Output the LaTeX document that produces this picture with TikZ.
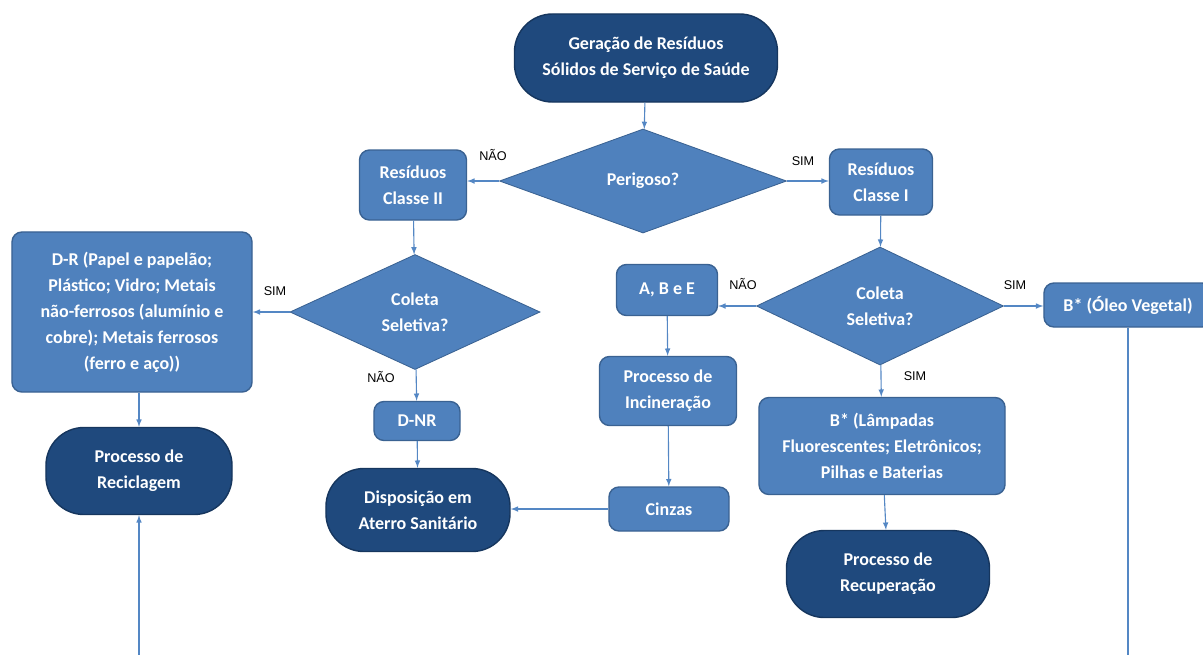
\documentclass[tikz,border=0pt]{standalone}
\usepackage{fontspec}
\setmainfont{Carlito}
\newfontfamily\lblfont{Liberation Sans}
\usepackage{tikz}
\usetikzlibrary{shapes.geometric,arrows}

\definecolor{boxblue}{RGB}{79,129,189}
\definecolor{boxline}{RGB}{58,98,146}
\definecolor{darkblue}{RGB}{31,73,125}
\definecolor{darkline}{RGB}{22,54,94}
\definecolor{flowblue}{RGB}{84,135,196}

\begin{document}
\begin{tikzpicture}[
		x=0.025cm, y=-0.025cm,
		proc/.style={
			draw=boxline,
			fill=boxblue,
			line width=1pt,
			rounded corners=0.25cm,
			text=white,
			font=\fontsize{12.8}{18.5}\selectfont\bfseries,
			align=center,
			inner sep=0pt
		},
		term/.style={
			draw=darkline,
			fill=darkblue,
			line width=1pt,
			rounded corners=0.95cm,
			text=white,
			font=\fontsize{12.8}{18.5}\selectfont\bfseries,
			align=center,
			inner sep=0pt
		},
		decis/.style={
			diamond,
			draw=boxline,
			fill=boxblue,
			line width=0.6pt,
			text=white,
			font=\fontsize{12.8}{18.5}\selectfont\bfseries,
			align=center,
			inner sep=0pt
		},
		lbl/.style={
			font=\lblfont\fontsize{9}{10}\selectfont,
			inner sep=0pt
		},
		flow/.style={
			draw=flowblue,
			line width=0.8pt,
			-latex
		}
		]
		
		\useasboundingbox (0,0) rectangle (1203,654);
		\clip (0,0) rectangle (1203,654);
		
		% top of the chart
		\node[term, minimum width=6.575cm, minimum height=2.2cm] at (646,58)
		(gen) {Geração de Resíduos\\Sólidos de Serviço de Saúde};
		\node[decis, minimum width=7.175cm, minimum height=2.6cm] at (643,181)
		(perig) {Perigoso?};
		\node[proc, minimum width=2.675cm, minimum height=1.75cm] at (413,185)
		(cII) {Resíduos\\Classe II};
		\node[proc, minimum width=2.575cm, minimum height=1.65cm] at (881,182)
		(cI) {Resíduos\\Classe I};
		
		% classe II side
		\node[decis, minimum width=6.25cm, minimum height=2.875cm] at (415,312)
		(colL) {Coleta\\Seletiva?};
		\node[proc, minimum width=6cm, minimum height=4cm] at (132,312)
		(dr) {D-R (Papel e papelão;\\Plástico; Vidro; Metais\\não-ferrosos (alumínio e\\cobre); Metais ferrosos\\(ferro e aço))};
		\node[proc, minimum width=2.15cm, minimum height=0.975cm] at (417,421)
		(dnr) {D-NR};
		\node[term, minimum width=4.65cm, minimum height=2.175cm] at (139,471)
		(recic) {Processo de\\Reciclagem};
		\node[term, minimum width=4.6cm, minimum height=2.075cm] at (418,510)
		(disp) {Disposição em\\Aterro Sanitário};
		
		% classe I side
		\node[decis, minimum width=6.175cm, minimum height=2.95cm] at (880,306)
		(colR) {Coleta\\Seletiva?};
		\node[proc, minimum width=2.525cm, minimum height=1.275cm] at (667,290)
		(abe) {A, B e E};
		\node[proc, minimum width=4.2cm, minimum height=1.1cm] at (1128,305)
		(oleo) {B* (Óleo Vegetal)};
		\node[proc, minimum width=3.425cm, minimum height=1.725cm] at (668,391)
		(incin) {Processo de\\Incineração};
		\node[proc, minimum width=3cm, minimum height=1.1cm] at (669,509)
		(cinz) {Cinzas};
		\node[proc, minimum width=6.15cm, minimum height=2.425cm] at (882,446)
		(lamp) {B* (Lâmpadas\\Fluorescentes; Eletrônicos;\\Pilhas e Baterias};
		\node[term, minimum width=5.075cm, minimum height=2.175cm] at (888,574)
		(recup) {Processo de\\Recuperação};
		
		\coordinate (bot) at (640,700);
		
		% connectors
		\draw[flow] (gen) -- (perig);
		\draw[flow] (perig.west) -- (perig.west -| cII.east);
		\draw[flow] (perig.east) -- (perig.east -| cI.west);
		\draw[flow] (cII) -- (colL);
		\draw[flow] (colL.west) -- (colL.west -| dr.east);
		\draw[flow] (colL) -- (dnr);
		\draw[flow] (recic.north |- dr.south) -- (recic.north);
		\draw[flow] (dnr) -- (disp);
		\draw[flow] (cI) -- (colR);
		\draw[flow] (colR.west) -- (colR.west -| abe.east);
		\draw[flow] (colR.east) -- (colR.east -| oleo.west);
		\draw[flow] (colR) -- (lamp);
		\draw[flow] (abe) -- (incin);
		\draw[flow] (incin) -- (cinz);
		\draw[flow] (lamp) -- (recup);
		\draw[flow] (cinz.west) -- (cinz.west -| disp.east);
		\draw[flow] (oleo.south) |- (bot) -| (recic.south);
		
		% answers
		\node[lbl] at (493,155) (l1) {NÃO};
		\node[lbl] at (803,161) (l2) {SIM};
		\node[lbl] at (275,291) (l3) {SIM};
		\node[lbl] at (381,377) (l4) {NÃO};
		\node[lbl] at (743,284) (l5) {NÃO};
		\node[lbl] at (1015,285) (l6) {SIM};
		\node[lbl] at (915,376) (l7) {SIM};
		
		\end{tikzpicture}
\end{document}
